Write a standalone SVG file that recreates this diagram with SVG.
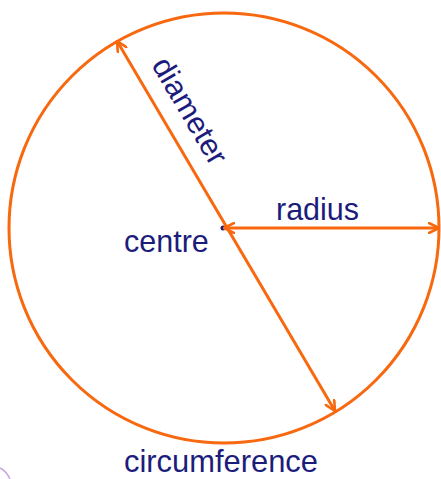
<svg xmlns="http://www.w3.org/2000/svg" width="441" height="479" viewBox="0 0 441 479">
  <style>
    .lbl { font-family: "Liberation Sans", Arial, sans-serif; font-size: 30.5px; fill: #1c1c7c; }
    .ln { stroke: #f7680f; stroke-width: 3; fill: none; }
  </style>
  <defs>
    <marker id="ah" viewBox="0 0 12 12" refX="11" refY="6" markerWidth="12" markerHeight="12" markerUnits="userSpaceOnUse" orient="auto-start-reverse">
      <path d="M1,1 L11,6 L1,11" fill="none" stroke="#f7680f" stroke-width="2.6" stroke-linecap="round" stroke-linejoin="round"/>
    </marker>
  </defs>
  <rect width="441" height="479" fill="#ffffff"/>
  <g id="circle">
    <circle class="ln" cx="224" cy="228" r="215"/>
  </g>
  <g id="centre">
    <circle cx="223" cy="228" r="2.5" fill="#1c1c7c"/>
    <text class="lbl" x="124" y="252">centre</text>
  </g>
  <g id="connectors">
    <line class="ln" x1="117" y1="41" x2="335" y2="411" marker-start="url(#ah)" marker-end="url(#ah)"/>
    <line class="ln" x1="224" y1="228" x2="439" y2="228" marker-start="url(#ah)" marker-end="url(#ah)"/>
  </g>
  <g id="diameter">
    <text class="lbl" transform="translate(151,65) rotate(59.5)">diameter</text>
  </g>
  <g id="radius">
    <text class="lbl" x="276" y="220">radius</text>
  </g>
  <g id="circumference">
    <text class="lbl" x="124" y="472" textLength="194" lengthAdjust="spacingAndGlyphs">circumference</text>
  </g>
  <g id="fragment">
    <path d="M0,468 Q6,471 10,479" fill="none" stroke="#b07ad0" stroke-width="1.5" opacity="0.7"/>
  </g>
</svg>
